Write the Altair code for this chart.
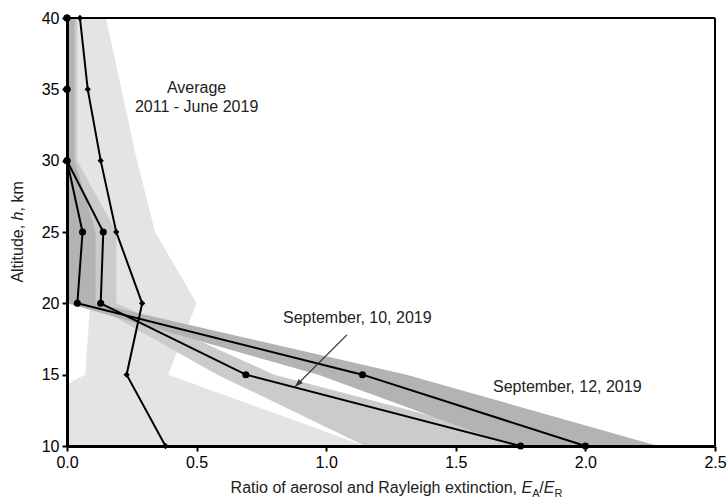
import altair as alt
import pandas as pd

# ---------------- values ----------------
altitude = [10, 15, 20, 25, 30, 35, 40]

average = [0.38, 0.23, 0.29, 0.19, 0.13, 0.08, 0.05]
sep10 = [1.75, 0.69, 0.13, 0.14, 0.0, 0.0, 0.0]
sep12 = [2.00, 1.14, 0.04, 0.06, 0.0, 0.0, 0.0]

average_low = [-0.45, 0.07, 0.09, 0.0, 0.0, 0.0, 0.0]
average_high = [1.15, 0.39, 0.50, 0.34, 0.27, 0.21, 0.15]
sep10_low = [1.15, 0.58, 0.09, 0.09, 0.0, 0.0, 0.0]
sep10_high = [1.85, 0.80, 0.19, 0.19, 0.04, 0.04, 0.04]
sep12_low = [1.72, 0.97, 0.0, 0.0, 0.0, 0.0, 0.0]
sep12_high = [2.28, 1.31, 0.11, 0.11, 0.03, 0.03, 0.03]

x_ticks = [0.0, 0.5, 1.0, 1.5, 2.0, 2.5]
y_ticks = [10, 15, 20, 25, 30, 35, 40]

label_texts = ["Average", "2011 - June 2019", "September, 10, 2019", "September, 12, 2019"]
label_x = [0.50, 0.50, 1.12, 1.93]
label_y = [35.1, 33.75, 18.98, 14.14]

arrow_from = (1.08, 17.79)
arrow_to = (0.88, 14.16)

# ---------------- tables ----------------
lines_df = pd.DataFrame({
    "series": ["average"] * 7 + ["sep10"] * 7 + ["sep12"] * 7,
    "alt": altitude * 3,
    "ratio": average + sep10 + sep12,
})
band_lows = {"average": average_low, "sep10": sep10_low, "sep12": sep12_low}
band_highs = {"average": average_high, "sep10": sep10_high, "sep12": sep12_high}
labels_df = pd.DataFrame({"text": label_texts, "x": label_x, "y": label_y})
arrow_df = pd.DataFrame({"x": [arrow_from[0]], "y": [arrow_from[1]],
                         "x2": [arrow_to[0]], "y2": [arrow_to[1]]})

W, H = 648, 428
FONT = "Liberation Sans"

xs = alt.Scale(domain=[0, 2.5], nice=False, zero=False)
ys = alt.Scale(domain=[10, 40], nice=False, zero=False)
x_axis = alt.Axis(values=x_ticks, format=".1f", title=None, grid=False,
                  domainColor="black", domainWidth=3, tickColor="black",
                  tickWidth=2, tickSize=5, labelFont=FONT, labelFontSize=16,
                  labelColor="black", labelPadding=3, labelOverlap=False,
                  labelFlush=False, zindex=1)
y_axis = alt.Axis(values=y_ticks, format="d", title=None, grid=False,
                  domainColor="black", domainWidth=3, tickColor="black",
                  tickWidth=2, tickSize=5, labelFont=FONT, labelFontSize=16,
                  labelColor="black", labelPadding=3, labelOverlap=False,
                  labelFlush=False, zindex=1)


def X(f):
    return alt.X(f, scale=xs, axis=x_axis)


def Y(f):
    return alt.Y(f, scale=ys, axis=y_axis)


def band(name, color):
    df = pd.DataFrame({"alt": altitude, "lo": band_lows[name], "hi": band_highs[name]})
    return alt.Chart(df).mark_area(orient="horizontal", color=color, opacity=1,
                                   clip=True, interpolate="linear").encode(
        x=X("lo:Q"), x2="hi:Q", y=Y("alt:Q")
    )


bands = [band("average", "#e4e4e4"), band("sep10", "#cbcbcb"), band("sep12", "#b3b3b3")]

lines = alt.Chart(lines_df).mark_line(color="black", strokeWidth=2).encode(
    x=X("ratio:Q"), y=Y("alt:Q"), detail="series:N", order="alt:Q"
)
circles = alt.Chart(lines_df).transform_filter(
    alt.datum.series != "average"
).mark_point(shape="circle", filled=True, color="black", size=50, opacity=1).encode(
    x=X("ratio:Q"), y=Y("alt:Q")
)
diamonds = alt.Chart(lines_df).transform_filter(
    alt.datum.series == "average"
).mark_point(shape="diamond", filled=True, color="black", size=40, opacity=1).encode(
    x=X("ratio:Q"), y=Y("alt:Q")
)

labels = alt.Chart(labels_df).mark_text(font=FONT, fontSize=16, color="#222222",
                                        align="center", baseline="middle").encode(
    x=X("x:Q"), y=Y("y:Q"), text="text:N"
)

arrow_line = alt.Chart(arrow_df).mark_rule(color="#333333", strokeWidth=1.3).encode(
    x=X("x:Q"), y=Y("y:Q"), x2="x2:Q", y2="y2:Q"
)
arrow_head = alt.Chart(arrow_df).mark_point(
    shape="M0,0 L-0.35,1 L0.35,1 Z", filled=True, size=256, angle=225,
    color="#333333", opacity=1
).encode(x=X("x2:Q"), y=Y("y2:Q"))

frame_top = alt.Chart().mark_rule(color="black", strokeWidth=2).encode(
    x=alt.value(0), x2=alt.value(W), y=alt.value(0)
)
frame_right = alt.Chart().mark_rule(color="black", strokeWidth=2).encode(
    x=alt.value(W), y=alt.value(0), y2=alt.value(H)
)

# x-axis title with italic E and subscripts
tb = 475  # baseline, relative to plot top
xt_main = alt.Chart().mark_text(font=FONT, fontSize=16, color="#222222", align="right",
                                baseline="alphabetic").encode(
    x=alt.value(450), y=alt.value(tb), text=alt.value("Ratio of aerosol and Rayleigh extinction,"))
xt_e1 = alt.Chart().mark_text(font=FONT, fontSize=16, fontStyle="italic", color="#222222",
                              align="left", baseline="alphabetic").encode(
    x=alt.value(454.5), y=alt.value(tb), text=alt.value("E"))
xt_a = alt.Chart().mark_text(font=FONT, fontSize=11, color="#222222",
                             align="left", baseline="alphabetic").encode(
    x=alt.value(465.2), y=alt.value(tb + 4), text=alt.value("A"))
xt_sl = alt.Chart().mark_text(font=FONT, fontSize=16, color="#222222",
                              align="left", baseline="alphabetic").encode(
    x=alt.value(472.3), y=alt.value(tb), text=alt.value("/"))
xt_e2 = alt.Chart().mark_text(font=FONT, fontSize=16, fontStyle="italic", color="#222222",
                              align="left", baseline="alphabetic").encode(
    x=alt.value(476.7), y=alt.value(tb), text=alt.value("E"))
xt_r = alt.Chart().mark_text(font=FONT, fontSize=11, color="#222222",
                             align="left", baseline="alphabetic").encode(
    x=alt.value(487.4), y=alt.value(tb + 4), text=alt.value("R"))

# y-axis title with italic h
yx = -49
yt_main = alt.Chart().mark_text(font=FONT, fontSize=16, color="#222222", align="right",
                                baseline="middle", angle=270).encode(
    x=alt.value(yx), y=alt.value(206.8), text=alt.value("Altitude,"))
yt_h = alt.Chart().mark_text(font=FONT, fontSize=16, fontStyle="italic", color="#222222",
                             align="left", baseline="middle", angle=270).encode(
    x=alt.value(yx), y=alt.value(202.4), text=alt.value("h"))
yt_km = alt.Chart().mark_text(font=FONT, fontSize=16, color="#222222", align="left",
                              baseline="middle", angle=270).encode(
    x=alt.value(yx), y=alt.value(193.5), text=alt.value(", km"))

chart = alt.layer(
    *bands, lines, circles, diamonds, labels, arrow_line, arrow_head,
    frame_top, frame_right,
    xt_main, xt_e1, xt_a, xt_sl, xt_e2, xt_r, yt_main, yt_h, yt_km,
).properties(
    width=W, height=H,
    padding={"left": 67, "top": 18, "right": 13, "bottom": 54},
    autosize=alt.AutoSizeParams(type="none"),
    background="white",
).configure_view(stroke=None)

chart.save("out.html", embed_options={"renderer": "svg", "actions": False})
